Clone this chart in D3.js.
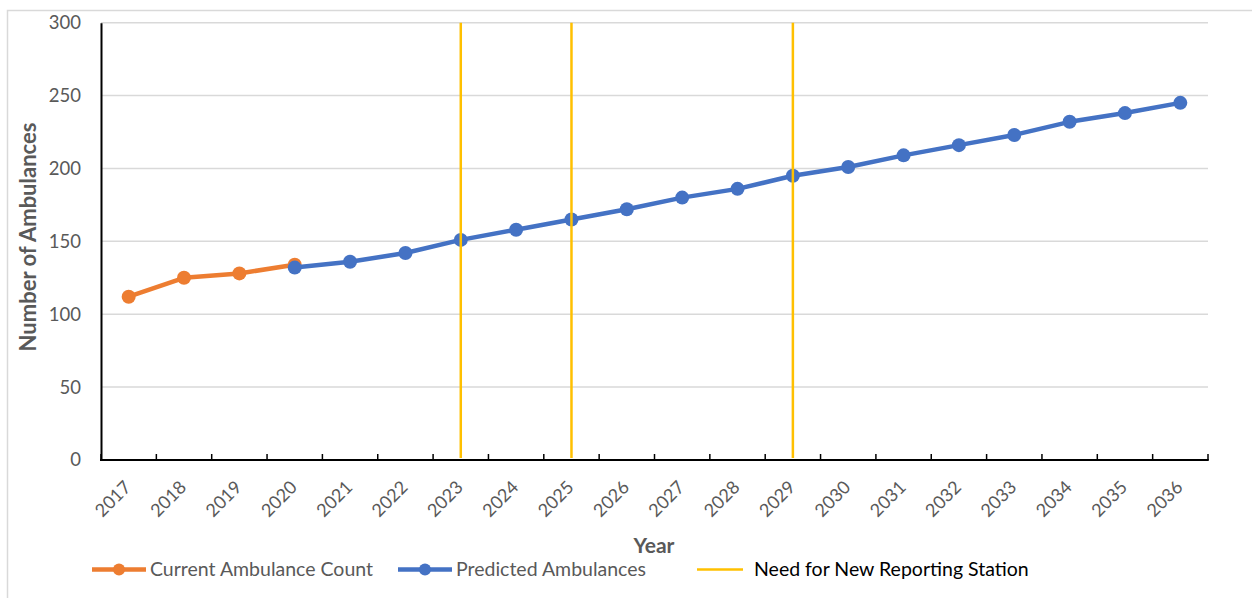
<!DOCTYPE html>
<html>
<head>
<meta charset="utf-8">
<script src="https://cdn.jsdelivr.net/npm/d3@7"></script>
<style>
  html, body { margin: 0; padding: 0; background: #fff; }
  svg { display: block; font-family: Lato, "Open Sans", sans-serif; }
</style>
</head>
<body>
<svg id="chart" width="1252" height="598"></svg>
<script>
// Years on the category axis
const years = ["2017","2018","2019","2020","2021","2022","2023","2024","2025","2026",
               "2027","2028","2029","2030","2031","2032","2033","2034","2035","2036"];

// Recorded fleet size
const currentYears = ["2017","2018","2019","2020"];
const currentCounts = [112, 125, 128, 134];

// Projected fleet size
const predictedYears = ["2020","2021","2022","2023","2024","2025","2026","2027","2028",
                        "2029","2030","2031","2032","2033","2034","2035","2036"];
const predictedCounts = [132, 136, 142, 151, 158, 165, 172, 180, 186,
                         195, 201, 209, 216, 223, 232, 238, 245];

// Years where another reporting station becomes necessary
const stationYears = ["2023", "2025", "2029"];

const yTicks = [0, 50, 100, 150, 200, 250, 300];

const seriesNames = ["Current Ambulance Count", "Predicted Ambulances", "Need for New Reporting Station"];
const colors = { current: "#ED7D31", predicted: "#4472C4", station: "#FFC000" };

const svg = d3.select("#chart");
const margin = { left: 101, right: 1208, top: 22.7, bottom: 460 };

const x = d3.scaleBand().domain(years).range([margin.left, margin.right]).padding(0);
const y = d3.scaleLinear().domain([0, 300]).range([margin.bottom, margin.top]);
const cx = d => x(d) + x.bandwidth() / 2;

// Outer chart frame
svg.append("rect")
  .attr("x", 7.5).attr("y", 10.5)
  .attr("width", 1400).attr("height", 700)
  .attr("fill", "none").attr("stroke", "#d9d9d9").attr("stroke-width", 1.5);

// Horizontal gridlines
svg.append("g")
  .selectAll("line")
  .data(yTicks.filter(t => t > 0))
  .join("line")
  .attr("x1", margin.left).attr("x2", margin.right)
  .attr("y1", d => y(d)).attr("y2", d => y(d))
  .attr("stroke", "#d9d9d9").attr("stroke-width", 1.5);

// Y axis
const yAxis = svg.append("g")
  .attr("transform", `translate(${margin.left},0)`)
  .call(d3.axisLeft(y).tickValues(yTicks).tickSize(0).tickPadding(20));
yAxis.select(".domain").attr("stroke", "#000").attr("stroke-width", 2);
yAxis.selectAll("text")
  .attr("fill", "#595959").style("font-size", "18.5px")
  .style("font-family", "Lato, sans-serif");

// X axis: tick marks sit on band boundaries, pointing up into the plot
const boundaries = years.map(d => x(d)).concat([margin.right]);
svg.append("g")
  .selectAll("line")
  .data(boundaries)
  .join("line")
  .attr("x1", d => d).attr("x2", d => d)
  .attr("y1", margin.bottom - 6).attr("y2", margin.bottom)
  .attr("stroke", "#000").attr("stroke-width", 1.5);
svg.append("line")
  .attr("x1", margin.left - 1).attr("x2", margin.right + 0.75)
  .attr("y1", margin.bottom).attr("y2", margin.bottom)
  .attr("stroke", "#000").attr("stroke-width", 2);

// Rotated year labels
svg.append("g")
  .selectAll("text")
  .data(years)
  .join("text")
  .attr("transform", d => `translate(${cx(d) - 1},${margin.bottom + 24}) rotate(-45)`)
  .attr("text-anchor", "end")
  .attr("dy", "0.35em")
  .attr("fill", "#595959")
  .style("font-size", "18px")
  .text(d => d);

// Axis titles
svg.append("text")
  .attr("transform", `translate(28,237) rotate(-90)`)
  .attr("text-anchor", "middle")
  .attr("dy", "0.35em")
  .attr("fill", "#595959")
  .style("font-size", "22px").style("font-weight", "bold")
  .text("Number of Ambulances");

svg.append("text")
  .attr("x", 654).attr("y", 553)
  .attr("text-anchor", "middle")
  .attr("fill", "#595959")
  .style("font-size", "21px").style("font-weight", "bold")
  .text("Year");

const line = d3.line().x(d => cx(d.year)).y(d => y(d.value));

function drawSeries(yrs, vals, color) {
  const pts = yrs.map((yr, i) => ({ year: yr, value: vals[i] }));
  const g = svg.append("g");
  g.append("path")
    .datum(pts)
    .attr("d", line)
    .attr("fill", "none")
    .attr("stroke", color)
    .attr("stroke-width", 4.5)
    .attr("stroke-linejoin", "round");
  g.selectAll("circle")
    .data(pts)
    .join("circle")
    .attr("cx", d => cx(d.year)).attr("cy", d => y(d.value))
    .attr("r", 7)
    .attr("fill", color);
}

drawSeries(currentYears, currentCounts, colors.current);
drawSeries(predictedYears, predictedCounts, colors.predicted);

// Vertical markers for new reporting stations
svg.append("g")
  .selectAll("line")
  .data(stationYears)
  .join("line")
  .attr("x1", d => cx(d)).attr("x2", d => cx(d))
  .attr("y1", y(0) - 2).attr("y2", y(300))
  .attr("stroke", colors.station).attr("stroke-width", 2.5);

// Legend
const legendY = 569.5;
const legendItems = [
  { name: seriesNames[0], color: colors.current, x0: 92, x1: 146, marker: true, textX: 150, textColor: "#595959" },
  { name: seriesNames[1], color: colors.predicted, x0: 398, x1: 452, marker: true, textX: 456, textColor: "#595959" },
  { name: seriesNames[2], color: colors.station, x0: 697, x1: 743, marker: false, textX: 754, textColor: "#000" }
];
const lg = svg.append("g").selectAll("g").data(legendItems).join("g");
lg.append("line")
  .attr("x1", d => d.x0).attr("x2", d => d.x1)
  .attr("y1", legendY).attr("y2", legendY)
  .attr("stroke", d => d.color)
  .attr("stroke-width", d => d.marker ? 4.5 : 2.5);
lg.filter(d => d.marker).append("circle")
  .attr("cx", d => (d.x0 + d.x1) / 2).attr("cy", legendY)
  .attr("r", 6).attr("fill", d => d.color);
lg.append("text")
  .attr("x", d => d.textX).attr("y", legendY)
  .attr("dy", "0.35em")
  .attr("fill", d => d.textColor)
  .style("font-size", "19.5px")
  .text(d => d.name);
</script>
</body>
</html>
